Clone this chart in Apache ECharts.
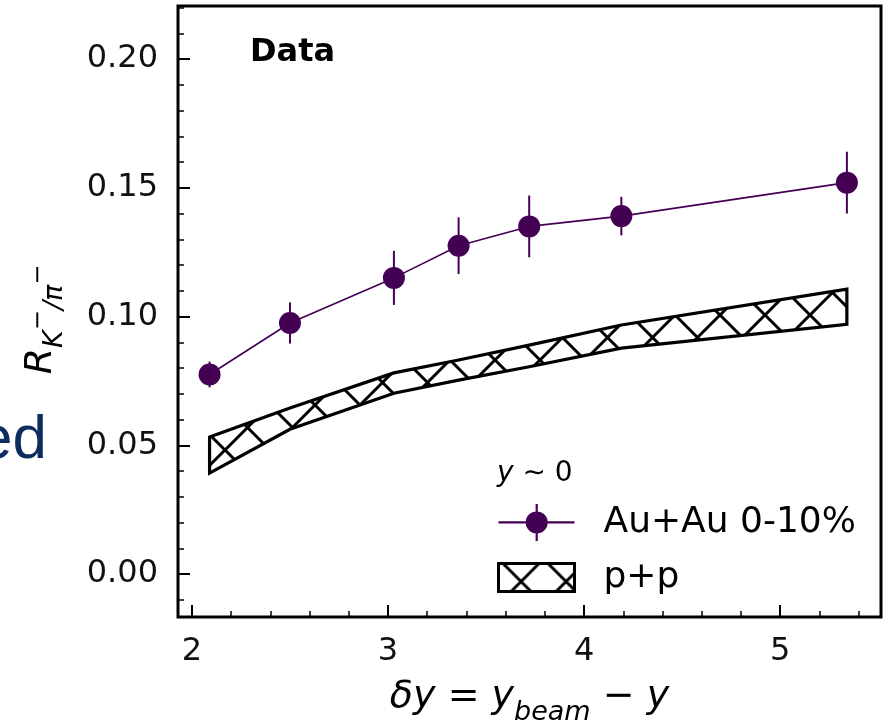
<!DOCTYPE html>
<html>
<head>
<meta charset="utf-8">
<script src="https://cdn.jsdelivr.net/npm/echarts@6/dist/echarts.min.js"></script>
<style>
  html, body { margin: 0; padding: 0; background: #ffffff; }
  #chart { width: 894px; height: 723px; }
</style>
</head>
<body>
<div id="chart"></div>
<script>
// δy = y_beam − y of each measurement
const deltaY = [2.09, 2.50, 3.03, 3.36, 3.72, 4.19, 5.34];
// Au+Au 0-10% central K-/π- ratio and its uncertainty
const auauRatio = [0.0775, 0.0975, 0.115, 0.1275, 0.135, 0.139, 0.152];
const auauErr = [0.005, 0.008, 0.0105, 0.011, 0.012, 0.0075, 0.012];
// p+p reference band: lower and upper edges
const ppLow = [0.0392, 0.0562, 0.0702, 0.0753, 0.0805, 0.0877, 0.0970];
const ppHigh = [0.0532, 0.0645, 0.0781, 0.0831, 0.0889, 0.0967, 0.1106];
// axis ranges
const xRange = [1.929, 5.514];
const yRange = [-0.0167, 0.2206];
// legend entries
const seriesNames = ['Au+Au 0-10%', 'p+p'];

const AUAU_COLOR = '#440154';
const FONT = 'DejaVu Sans';

// cross-hatch tile for the p+p band
function makeHatch(size, lw) {
  const c = document.createElement('canvas');
  c.width = size; c.height = size;
  const g = c.getContext('2d');
  g.strokeStyle = '#000';
  g.lineWidth = lw;
  g.beginPath();
  for (let k = -1; k <= 1; k++) {
    g.moveTo(k * size, 0); g.lineTo(k * size + size, size);
    g.moveTo(k * size, size); g.lineTo(k * size + size, 0);
  }
  g.stroke();
  return c;
}
const hatch = { image: makeHatch(45, 3), repeat: 'repeat' };

const chart = echarts.init(document.getElementById('chart'), null, { renderer: 'canvas' });

const option = {
  animation: false,
  backgroundColor: '#ffffff',
  grid: {
    left: 178, right: 13, top: 6, bottom: 106,
    containLabel: false, outerBoundsMode: 'none',
    show: true, borderColor: '#000', borderWidth: 3, backgroundColor: 'transparent'
  },
  title: [
    {
      text: 'Data', left: 250, top: 37, padding: 0,
      textStyle: { fontFamily: FONT, fontWeight: 'bold', fontSize: 32, color: '#000' }
    },
    {
      text: '{i|y} {n|∼ 0}', left: 497, top: 460, padding: 0,
      textStyle: {
        fontFamily: FONT, fontSize: 28, fontWeight: 'normal', color: '#000',
        rich: {
          i: { fontFamily: FONT, fontStyle: 'italic', fontWeight: 'normal', fontSize: 28, color: '#000' },
          n: { fontFamily: FONT, fontWeight: 'normal', fontSize: 28, color: '#000' }
        }
      }
    }
  ],
  graphic: [
    {
      type: 'text', x: 47, y: 441, silent: true,
      style: {
        text: 'ed', fontFamily: 'Liberation Sans', fontSize: 62,
        fill: '#0c2d5e', align: 'right', verticalAlign: 'middle'
      }
    }
  ],
  legend: {
    left: 497, top: 504, padding: 0, orient: 'vertical', selectedMode: false,
    itemWidth: 76, itemHeight: 37, itemGap: 18,
    textStyle: { fontFamily: FONT, fontSize: 36, color: '#000', lineHeight: 37, padding: [0, 0, 0, 24] },
    data: [
      {
        name: seriesNames[0],
        icon: 'path://M0 17.2H76V19.6H0Z M37.1 0H39.3V37H37.1Z M27.2 18.4A11 11 0 1 1 49.2 18.4A11 11 0 1 1 27.2 18.4Z',
        itemStyle: { color: AUAU_COLOR, borderWidth: 0 }
      },
      {
        name: seriesNames[1],
        icon: 'path://M0 0H76V28H0Z',
        itemStyle: { color: hatch, borderColor: '#000', borderWidth: 3 }
      }
    ]
  },
  xAxis: {
    type: 'value', min: xRange[0], max: xRange[1],
    axisLine: { show: false, onZero: false },
    axisTick: { show: true, inside: true, length: 12, lineStyle: { color: '#000', width: 2 } },
    minorTick: { show: true, splitNumber: 5, length: 6, lineStyle: { color: '#000', width: 1.5 } },
    splitLine: { show: false },
    minorSplitLine: { show: false },
    axisLabel: {
      showMinLabel: false, showMaxLabel: false, margin: 19,
      fontFamily: FONT, fontSize: 32, color: '#111'
    },
    name: '{i|δy} {n|=} {i|y}{s|beam} {n|−} {i|y}',
    nameLocation: 'middle', nameGap: 61,
    nameTextStyle: {
      fontFamily: FONT, fontSize: 38, color: '#000',
      rich: {
        i: { fontFamily: FONT, fontStyle: 'italic', fontSize: 38, lineHeight: 42, verticalAlign: 'top', color: '#000' },
        n: { fontFamily: FONT, fontSize: 38, lineHeight: 42, verticalAlign: 'top', color: '#000' },
        s: { fontFamily: FONT, fontStyle: 'italic', fontSize: 27, lineHeight: 27, verticalAlign: 'top', padding: [21, 0, 0, 0], color: '#000' }
      }
    }
  },
  yAxis: {
    type: 'value', min: yRange[0], max: yRange[1],
    axisLine: { show: false, onZero: false },
    axisTick: { show: true, inside: true, length: 12, lineStyle: { color: '#000', width: 2 } },
    minorTick: { show: true, splitNumber: 5, length: 6, lineStyle: { color: '#000', width: 1.5 } },
    splitLine: { show: false },
    minorSplitLine: { show: false },
    axisLabel: {
      showMinLabel: false, showMaxLabel: false, margin: 20,
      fontFamily: FONT, fontSize: 32, color: '#111',
      formatter: function (v) { return v.toFixed(2); }
    },
    name: '{r|R}{k|K}{m|−}{k|/π}{m|−}',
    nameLocation: 'middle', nameGap: 114,
    nameTextStyle: {
      fontFamily: FONT, fontSize: 38, color: '#000', padding: [0, 16, 0, 0],
      rich: {
        r: { fontFamily: FONT, fontStyle: 'italic', fontSize: 38, lineHeight: 42, verticalAlign: 'top', color: '#000' },
        k: { fontFamily: FONT, fontStyle: 'italic', fontSize: 27, lineHeight: 27, verticalAlign: 'top', padding: [19, 0, 0, 0], color: '#000' },
        m: { fontFamily: FONT, fontSize: 24, lineHeight: 24, verticalAlign: 'top', padding: [5, 0, 0, 0], color: '#000' }
      }
    }
  },
  series: [
    {
      name: seriesNames[1],
      type: 'custom',
      z: 2,
      data: deltaY.map(function (x, i) { return [x, ppLow[i], ppHigh[i]]; }),
      encode: { x: 0, y: [1, 2] },
      renderItem: function (params, api) {
        if (params.dataIndex !== 0) return null;
        const pts = [];
        for (let i = 0; i < deltaY.length; i++) pts.push(api.coord([deltaY[i], ppHigh[i]]));
        for (let i = deltaY.length - 1; i >= 0; i--) pts.push(api.coord([deltaY[i], ppLow[i]]));
        return {
          type: 'polygon',
          shape: { points: pts },
          style: { fill: hatch, stroke: '#000', lineWidth: 3.2, lineJoin: 'miter' }
        };
      }
    },
    {
      name: 'Au+Au errors',
      type: 'custom',
      z: 3,
      data: deltaY.map(function (x, i) { return [x, auauRatio[i] - auauErr[i], auauRatio[i] + auauErr[i]]; }),
      encode: { x: 0, y: [1, 2] },
      renderItem: function (params, api) {
        const a = api.coord([api.value(0), api.value(1)]);
        const b = api.coord([api.value(0), api.value(2)]);
        return {
          type: 'line',
          shape: { x1: a[0], y1: a[1], x2: b[0], y2: b[1] },
          style: { stroke: AUAU_COLOR, lineWidth: 2 }
        };
      }
    },
    {
      name: seriesNames[0],
      type: 'line',
      z: 4,
      data: deltaY.map(function (x, i) { return [x, auauRatio[i]]; }),
      symbol: 'circle',
      symbolSize: 22,
      showSymbol: true,
      itemStyle: { color: AUAU_COLOR, borderWidth: 0 },
      lineStyle: { color: AUAU_COLOR, width: 1.6 }
    }
  ]
};

chart.setOption(option);
</script>
</body>
</html>
